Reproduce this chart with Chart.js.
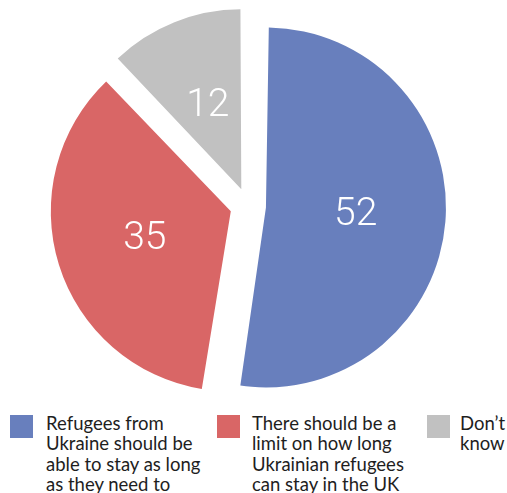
<!DOCTYPE html>
<html>
<head>
<meta charset="utf-8">
<script src="https://cdn.jsdelivr.net/npm/chart.js@4"></script>
<style>
    body { margin: 0; background: #fff; width: 507px; height: 493px; overflow: hidden; position: relative; }
    #wrap { position: absolute; left: 0; top: 0; width: 507px; height: 410px; }
    .legend { position: absolute; top: 413px; left: 0; width: 507px; font-family: 'Lato', sans-serif; font-size: 18.5px; line-height: 20.3px; color: #1e1e1e; }
    .item { position: absolute; top: 0; }
    .box { position: absolute; top: 2px; width: 23px; height: 23px; }
    .txt { position: absolute; top: 0; white-space: nowrap; }
</style>
</head>
<body>
<div id="wrap"><canvas id="pieChart"></canvas></div>
<div class="legend" id="legend"></div>
<script>
const labels = [
    ['Refugees from', 'Ukraine should be', 'able to stay as long', 'as they need to'],
    ['There should be a', 'limit on how long', 'Ukrainian refugees', 'can stay in the UK'],
    ["Don\u2019t", 'know']
];
const values = [52, 35, 12];
const colors = ['#687fbd', '#d96666', '#c1c1c1'];

// legend columns (box x, text x)
const legendPos = [[10, 46], [217, 252], [427, 460]];

const legend = document.getElementById('legend');
labels.forEach((lines, i) => {
    const item = document.createElement('div');
    item.className = 'item';
    item.innerHTML = '<div class="box" style="left:' + legendPos[i][0] + 'px;background:' + colors[i] + '"></div>' +
        '<div class="txt" style="left:' + legendPos[i][1] + 'px">' + lines.join('<br>') + '</div>';
    legend.appendChild(item);
});

// v4 arcs are translated by offset / 4 when drawn
const sliceOffset = 72;

// v4 also grows wide arcs by the offset; keep every slice the same size
const evenRadius = {
    id: 'evenRadius',
    beforeDatasetsDraw(chart) {
        const meta = chart.getDatasetMeta(0);
        const base = meta.controller.outerRadius;
        meta.data.forEach(arc => {
            const c = arc.endAngle - arc.startAngle;
            const fix = 1 - Math.sin(Math.min(Math.PI, c || 0));
            arc.outerRadius = base - (sliceOffset / 4) * fix;
        });
    }
};

// draws the value inside each slice
const valueLabels = {
    id: 'valueLabels',
    afterDatasetsDraw(chart) {
        const ctx = chart.ctx;
        const meta = chart.getDatasetMeta(0);
        const r = meta.controller.outerRadius;
        ctx.save();
        ctx.fillStyle = '#fff';
        ctx.font = '300 39px Roboto';
        ctx.textAlign = 'center';
        ctx.textBaseline = 'middle';
        meta.data.forEach((arc, i) => {
            const a = (arc.startAngle + arc.endAngle) / 2;
            const d = sliceOffset / 4 + r * 0.5;
            ctx.fillText(values[i], arc.x + Math.cos(a) * d, arc.y + Math.sin(a) * d + 1);
        });
        ctx.restore();
    }
};

new Chart(document.getElementById('pieChart'), {
    type: 'pie',
    data: {
        labels: labels.map(l => l.join(' ')),
        datasets: [{
            data: values,
            backgroundColor: colors,
            borderWidth: 0,
            offset: sliceOffset,
            radius: 180
        }]
    },
    options: {
        responsive: true,
        maintainAspectRatio: false,
        animation: false,
        layout: { padding: { left: 0, right: 11, top: 2, bottom: 0 } },
        plugins: {
            legend: { display: false },
            tooltip: { enabled: false }
        }
    },
    plugins: [evenRadius, valueLabels]
});
</script>
</body>
</html>
